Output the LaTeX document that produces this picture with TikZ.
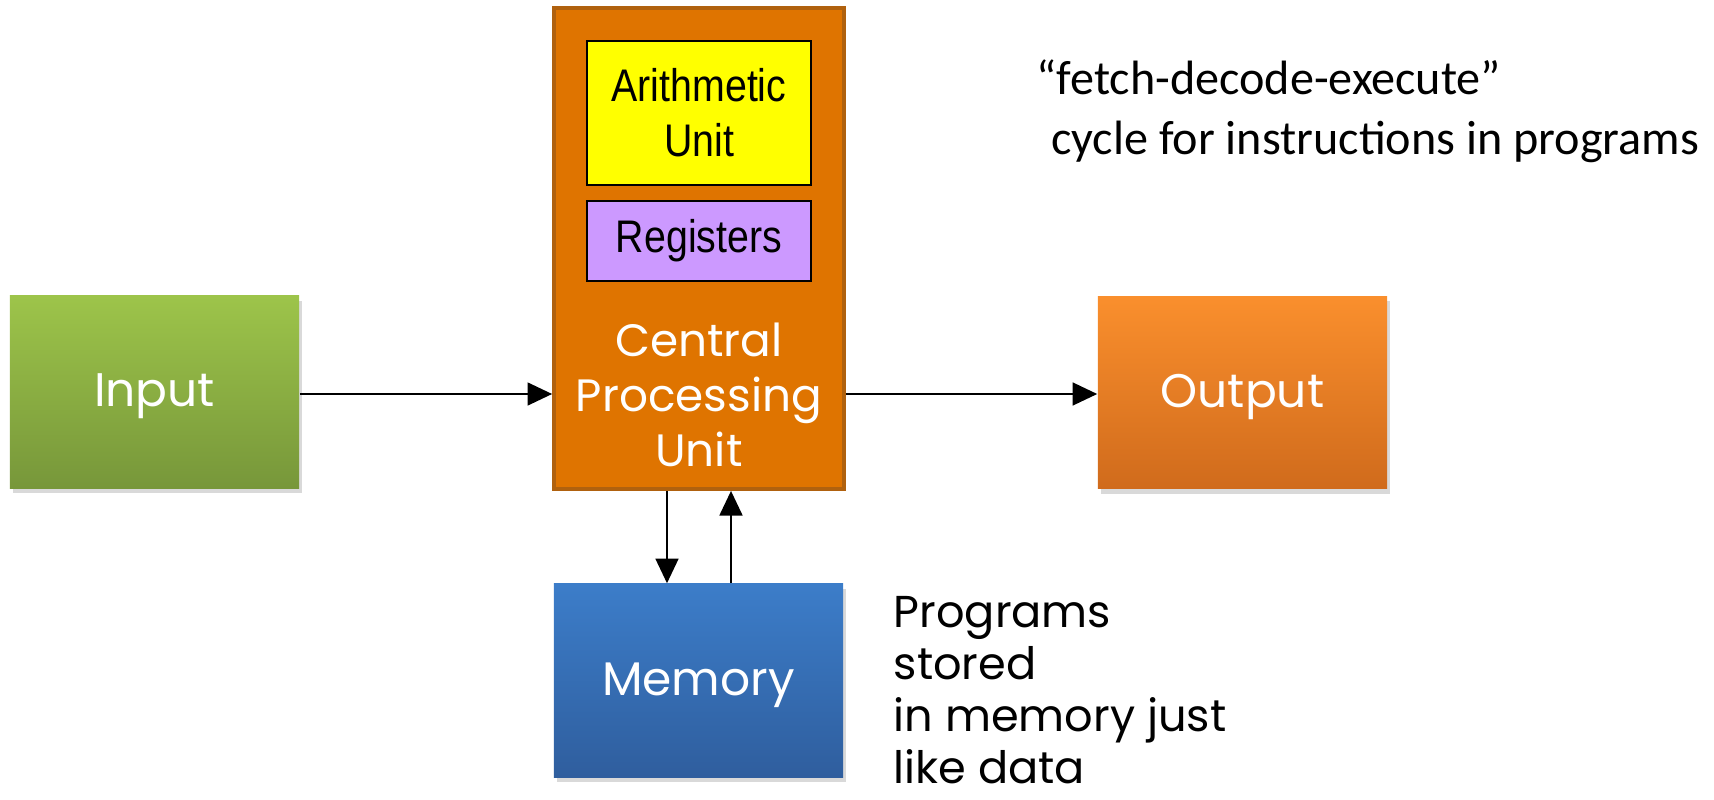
\documentclass[tikz,border=0pt]{standalone}
\usepackage{fontspec}
\setmainfont{Poppins}
\newfontfamily\arialfont{Liberation Sans}[FakeStretch=0.86]
\newfontfamily\calibrifont{Carlito}
\usetikzlibrary{arrows.meta,shadows}
\definecolor{ingreentop}{HTML}{9DC44A}
\definecolor{ingreenbot}{HTML}{77973A}
\definecolor{outorangetop}{HTML}{FA8F2D}
\definecolor{outorangebot}{HTML}{D06B1C}
\definecolor{memblutop}{HTML}{3C7DC9}
\definecolor{membluebot}{HTML}{2F5E9E}
\definecolor{cpuorange}{HTML}{DF7400}
\definecolor{cpuborder}{HTML}{B0610E}
\definecolor{aluyellow}{HTML}{FFFF00}
\definecolor{regpurple}{HTML}{CC99FF}
\tikzset{
  box/.style={minimum width=2.89cm, minimum height=1.92cm, text=white,
    font=\fontsize{13.4}{16}\selectfont, inner sep=0pt, text height=1.55ex, text depth=0pt,
    drop shadow={opacity=0.3, shadow xshift=0.03cm, shadow yshift=-0.05cm}},
  unitbox/.style={draw=black, line width=0.6pt, minimum width=2.24cm, inner sep=0pt,
    font=\arialfont\fontsize{13}{15.6}\selectfont, align=center},
  arr/.style={line width=0.6pt, -{Triangle[width=6.5pt,length=7pt]}}
}
\begin{document}
\begin{tikzpicture}[x=0.01cm, y=-0.01cm]
    \useasboundingbox (0,0) rectangle (1714,800);
    % processor with its two units
    \node[draw=cpuborder, line width=1pt, fill=cpuorange, minimum width=2.9cm, minimum height=4.81cm] (cpu) at (699,248.5) {};
    \node[unitbox, fill=aluyellow, minimum height=1.44cm] (alu) at (699,113) {Arithmetic\\Unit};
    \node[unitbox, fill=regpurple, minimum height=0.8cm] (reg) at (699,241) {Registers};
    \node[text=white, align=center, font=\fontsize{12.9}{15.6}\selectfont] (cputext) at (699,395) {Central\\Processing\\Unit};
    % input, output, memory
    \node[box, top color=ingreentop, bottom color=ingreenbot] (input) at (154.5,392) {Input};
    \node[box, top color=outorangetop, bottom color=outorangebot] (output) at (1242.5,392.5) {Output};
    \node[box, top color=memblutop, bottom color=membluebot, minimum height=1.93cm] (mem) at (698.5,680.5) {Memory};
    % connectors
    \coordinate (row) at (0,394);
    \coordinate (dn) at (667,0);
    \coordinate (up) at (731,0);
    \draw[arr] (input.east |- row) -- (cpu.west |- row);
    \draw[arr] (cpu.east |- row) -- (output.west |- row);
    \draw[arr] (cpu.south -| dn) -- (mem.north -| dn);
    \draw[arr] (mem.north -| up) -- (cpu.south -| up);
    % notes
    \node[anchor=north west, align=left, inner sep=0pt, font=\calibrifont\fontsize{13.7}{17}\selectfont] (cycle) at (1036,59) {“fetch-decode-execute”\\\hspace*{0.3em}cycle for instructions in programs};
    \node[anchor=north west, align=left, inner sep=0pt, font=\fontsize{12.7}{14.8}\selectfont] (stored) at (893,596) {Programs\\stored\\in memory just\\like data};
\end{tikzpicture}
\end{document}
